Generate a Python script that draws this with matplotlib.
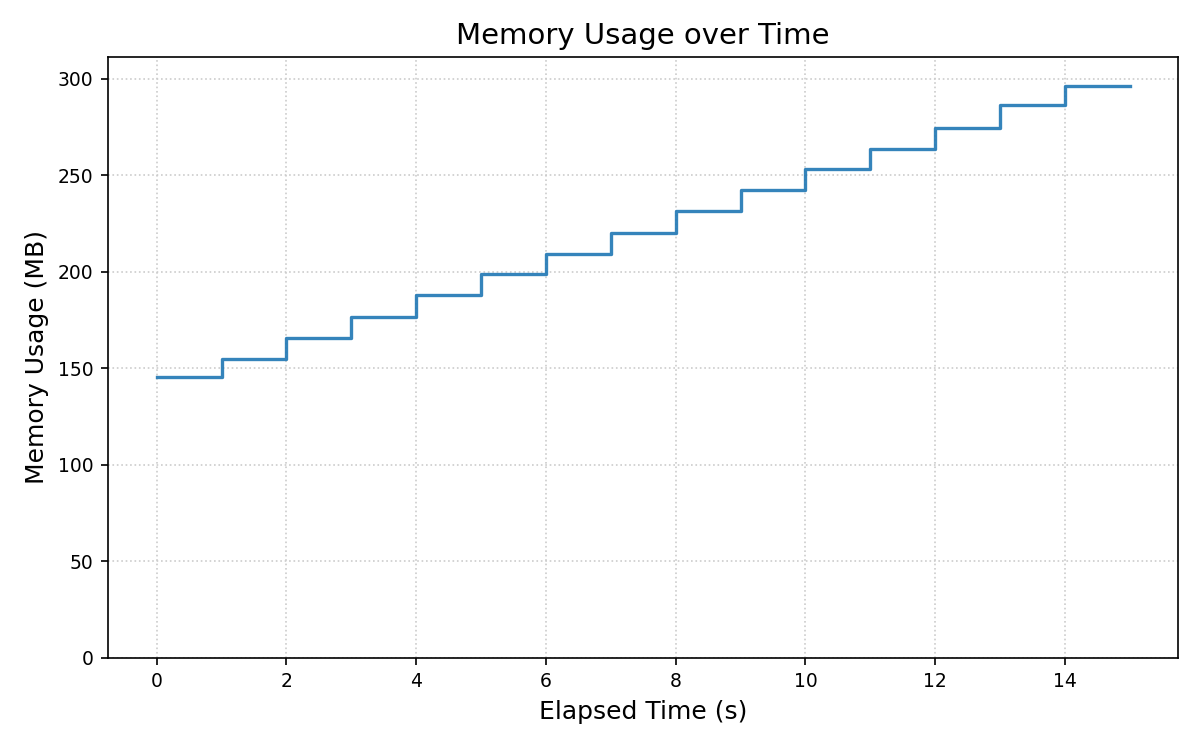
import matplotlib.pyplot as plt

# elapsed seconds and memory reading at each second (MB)
elapsed = list(range(16))
memory_mb = [145.6, 154.8, 165.9, 176.6, 187.7, 198.9, 209.2, 220.3,
             231.4, 242.4, 253.1, 263.4, 274.4, 286.2, 296.4, 296.4]

fig, ax = plt.subplots(figsize=(8, 5), dpi=150)
ax.step(elapsed, memory_mb, where='post', color='#1f77b4', alpha=0.9, linewidth=1.6)
ax.set_ylim(0, max(memory_mb) * 1.05)
ax.set_title('Memory Usage over Time', fontsize=14)
ax.set_xlabel('Elapsed Time (s)', fontsize=12)
ax.set_ylabel('Memory Usage (MB)', fontsize=12)
ax.tick_params(labelsize=9)
ax.grid(True, linestyle=':', color='#cccccc')
fig.subplots_adjust(left=0.09, right=0.982, top=0.924, bottom=0.123)
fig.savefig('out.png')
